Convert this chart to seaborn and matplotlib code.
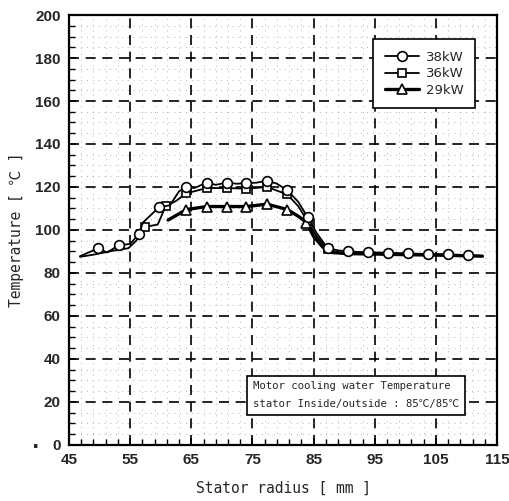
import numpy as np
import pandas as pd
import seaborn as sns
import matplotlib.pyplot as plt
from matplotlib.ticker import AutoMinorLocator

# donnees (rayon stator [mm], temperature [C])
x_38 = [46.8, 49.8, 51.2, 53.1, 55.0, 56.4, 57.1, 59.7, 61.5, 63.0, 64.2, 65.5, 67.5, 69.0,
        70.8, 72.5, 74.0, 75.7, 77.4, 79.0, 80.7, 82.5, 84.0, 85.5, 87.3, 89.0, 90.6, 93.9,
        97.1, 100.4, 103.7, 106.9, 110.2, 112.6]
t_38 = [87.8, 91.5, 89.5, 92.8, 93.5, 98.0, 103.5, 110.5, 111.5, 118.0, 120.0, 119.5, 122.0, 121.0,
        122.0, 121.5, 121.8, 122.0, 123.0, 121.5, 118.5, 113.0, 106.0, 98.5, 91.5, 90.5, 90.0, 89.6,
        89.4, 89.1, 88.8, 88.7, 88.2, 87.9]
m_38 = [1, 3, 5, 7, 10, 12, 14, 16, 18, 20, 22, 24, 26, 27, 28, 29, 30, 31, 32]

x_36 = [46.8, 49.0, 52.5, 54.7, 56.0, 57.5, 59.5, 60.8, 62.5, 64.1, 65.5, 67.5, 70.8, 74.0,
        77.4, 80.7, 82.5, 84.0, 85.5, 87.3, 89.0, 90.6, 93.9, 97.1, 100.4, 103.7, 106.9, 110.2, 112.6]
t_36 = [87.5, 88.5, 90.5, 91.5, 95.0, 101.5, 102.5, 111.0, 113.5, 117.0, 118.0, 119.5, 119.5, 119.2,
        120.0, 116.5, 111.0, 104.0, 97.0, 91.0, 89.5, 89.3, 89.0, 88.9, 88.7, 88.5, 88.3, 88.0, 87.8]
m_36 = [5, 7, 9, 11, 12, 13, 14, 15, 17, 19]

x_29 = [61.2, 64.2, 67.5, 70.8, 74.0, 77.4, 80.7, 82.7, 83.8, 85.0, 86.5, 88.0, 90.6, 95.0,
        100.0, 105.0, 110.0, 112.6]
t_29 = [104.6, 109.5, 110.9, 110.9, 110.9, 112.0, 109.5, 106.0, 103.4, 97.0, 92.0, 89.5, 89.0, 88.8,
        88.5, 88.3, 88.0, 87.8]
m_29 = [1, 2, 3, 4, 5, 6, 8]

xticks = [45, 55, 65, 75, 85, 95, 105, 115]
yticks = [0, 20, 40, 60, 80, 100, 120, 140, 160, 180, 200]

series = [
    ('36kW', x_36, t_36, m_36, 's', 5.5, 1.3),
    ('29kW', x_29, t_29, m_29, '^', 7.5, 2.4),
    ('38kW', x_38, t_38, m_38, 'o', 7, 1.3),
]

sns.set_style('ticks')
plt.rcParams['font.family'] = ['DejaVu Sans', 'Noto Sans CJK KR']

fig = plt.figure(figsize=(5.09, 5.01), dpi=100)
ax = fig.add_axes([0.1356, 0.112, 0.841, 0.858])

for nom, xs, ts, mk, marqueur, taille, lw in series:
    df = pd.DataFrame({'Rayon': xs, 'Temp': ts})
    sns.lineplot(data=df, x='Rayon', y='Temp', ax=ax, color='black', lw=lw,
                 marker=marqueur, markersize=taille, markevery=mk,
                 markerfacecolor='white', markeredgecolor='black', markeredgewidth=1.2,
                 label=nom, sort=False)

ax.set_xlim(45, 115)
ax.set_ylim(0, 200)
ax.set_xticks(xticks)
ax.set_yticks(yticks)
ax.xaxis.set_minor_locator(AutoMinorLocator(5))
ax.yaxis.set_minor_locator(AutoMinorLocator(4))
ax.grid(which='major', color='black', linestyle=(0, (6, 4)), linewidth=1.2)
ax.grid(which='minor', color='#9a9a9a', linestyle=(0, (1, 6)), linewidth=0.6)
ax.set_axisbelow(True)
ax.tick_params(which='both', direction='in', color='black')
ax.tick_params(which='major', length=5, width=1.2, labelsize=11, pad=6)
ax.tick_params(which='minor', length=4, width=1.0)
for lab in ax.get_xticklabels() + ax.get_yticklabels():
    lab.set_fontweight('bold')
    lab.set_family(['Liberation Sans Narrow', 'Liberation Sans'])
for sp in ax.spines.values():
    sp.set_color('black')
    sp.set_linewidth(1.6)

ax.set_xlabel('Stator radius [ mm ]', family=['DejaVu Sans Mono', 'Noto Sans CJK KR'],
              fontsize=10.5, labelpad=10)
ax.set_ylabel('Temperature [ ℃ ]', family=['DejaVu Sans Mono', 'Noto Sans CJK KR'],
              fontsize=10.5, labelpad=8)

# legende dans l'ordre 38, 36, 29
h, l = ax.get_legend_handles_labels()
ordre = [l.index('38kW'), l.index('36kW'), l.index('29kW')]
leg = ax.legend([h[i] for i in ordre], [l[i] for i in ordre], loc='upper right',
                bbox_to_anchor=(0.949, 0.944), borderaxespad=0, frameon=True, fancybox=False,
                edgecolor='black', framealpha=1, handlelength=2.6, fontsize=9.5,
                borderpad=0.9, labelspacing=0.25, handletextpad=0.5)
leg.get_frame().set_linewidth(1.2)

ax.text(0.43, 0.115, 'Motor cooling water Temperature\nstator Inside/outside : 85℃/85℃',
        transform=ax.transAxes, fontsize=7.7, family=['DejaVu Sans Mono', 'Noto Sans CJK KR'],
        va='center', ha='left', linespacing=2.0,
        bbox=dict(boxstyle='square,pad=0.55', facecolor='white', edgecolor='black', linewidth=1.2))

fig.text(0.062, 0.105, '.', fontsize=14, fontweight='bold')

plt.savefig('out.png', dpi=100)
